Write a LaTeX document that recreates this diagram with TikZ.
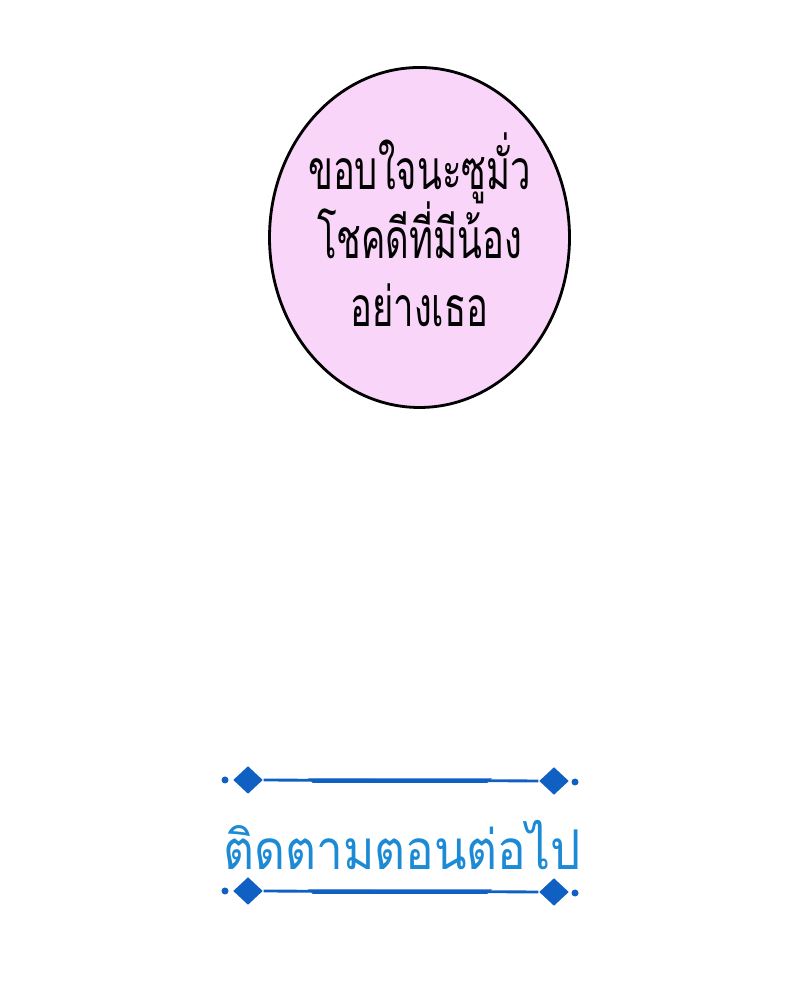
\documentclass[tikz,border=0pt]{standalone}
\usepackage{fontspec}
\newfontfamily\thaifont[Script=Thai]{Loma}
\usetikzlibrary{shapes.geometric}
\definecolor{bubblepink}{RGB}{250,213,250}
\definecolor{decoblue}{RGB}{16,96,196}
\definecolor{titleblue}{RGB}{28,138,212}
\newcommand\evenlines{\setlength{\lineskiplimit}{-50pt}}
\begin{document}
\begin{tikzpicture}[
            bubble/.style={ellipse, draw, line width=0.8pt, fill=bubblepink, minimum width=3cm, minimum height=3.4cm, inner sep=0pt},
            speech/.style={align=center, inner sep=0pt, font=\thaifont\fontsize{15.7}{19.5}\selectfont\evenlines},
            gem/.style={diamond, fill=decoblue, inner sep=0pt, minimum width=0.30cm, minimum height=0.28cm},
            dot/.style={circle, fill=decoblue, inner sep=0pt, minimum size=0.07cm},
            rule/.style={decoblue, line width=0.8pt}
        ]
            \useasboundingbox (0,0) rectangle (8,10);
            % Speech bubble
            \node[bubble] (bubble) at (4.195,7.625) {};
            \node[speech] (thanks) at (4.195,7.70) {\scalebox{0.66}[1]{ขอบใจนะซูมั่ว}\\\scalebox{0.66}[1]{โชคดีที่มีน้อง}\\\scalebox{0.66}[1]{อย่างเธอ}};

            % Upper ornament
            \node[dot] (topdotl) at (2.25,2.20) {};
            \node[gem] (topgeml) at (2.48,2.20) {};
            \node[gem] (topgemr) at (5.54,2.19) {};
            \node[dot] (topdotr) at (5.75,2.18) {};
            \draw[rule] (topgeml) -- (topgemr);
            \fill[decoblue] (3.08,2.215) -- (3.13,2.17) -- (4.87,2.17) -- (4.92,2.215) -- cycle;

            % Title
            \node[text=titleblue, inner sep=0pt, font=\thaifont\fontsize{15.6}{15.6}\selectfont] (next) at (4.02,1.55) {\scalebox{0.87}[1]{ติดตามตอนต่อไป}};

            % Lower ornament
            \node[dot] (botdotl) at (2.25,1.09) {};
            \node[gem] (botgeml) at (2.48,1.09) {};
            \node[gem] (botgemr) at (5.54,1.08) {};
            \node[dot] (botdotr) at (5.75,1.07) {};
            \draw[rule] (botgeml) -- (botgemr);
            \fill[decoblue] (3.08,1.105) -- (3.13,1.06) -- (4.87,1.06) -- (4.92,1.105) -- cycle;
        \end{tikzpicture}
\end{document}
